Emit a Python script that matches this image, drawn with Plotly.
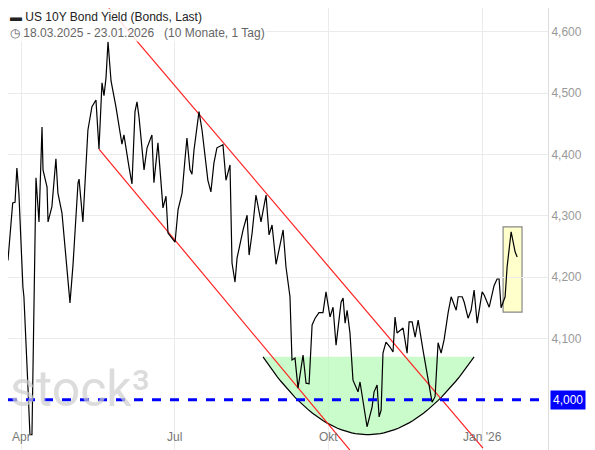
import numpy as np
import pandas as pd
import plotly.graph_objects as go

START = pd.Timestamp("2025-03-18")

# days since 18.03.2025 and yield values
days = [1, 2.5, 4.5, 5.7, 8.5, 9.9, 11, 12.2, 14.6, 15.2, 17.6, 18.8, 20, 22.4, 24.2, 26, 26.6,
        29, 29.6, 31.9, 34.3, 35.5, 37.9, 40.9, 42.7, 44.5, 47.5, 48.1, 50.4, 53.4, 55.8, 58.2,
        60, 61.8, 63, 64.2, 65.4, 67.2, 70.1, 73.7, 74.9, 77.9, 79.7, 81.5, 82.7, 83.9, 86.9,
        88.7, 91.6, 92.8, 95.2, 98.2, 100, 101.2, 105.4, 107.2, 109.6, 111.3, 112.5, 114.3,
        115.5, 116.7, 118.5, 119.7, 121.5, 125, 126.8, 128.6, 130.4, 134, 135.8, 138.2, 139.4,
        141.2, 142.4, 146, 148.4, 149.6, 151.4, 153.7, 156.7, 159.7, 161.5, 163.3, 165.7,
        169.9, 171.6, 172.8, 174, 175.2, 177, 178.8, 181.8, 183.6, 185.4, 187.2, 189, 191.3,
        193.7, 195.5, 197.9, 199.7, 201.5, 204.5, 205.7, 206.9, 208.1, 209.8, 211.6, 214.6,
        215.8, 220, 223, 224.2, 226, 227.2, 228.4, 229.5, 231.3, 233.7, 235.5, 236.7, 237.9,
        241.5, 243.9, 245.1, 246.9, 248.7, 250.5, 253.4, 255.8, 258.8, 260.6, 262.4, 264.2,
        266, 268.4, 270.2, 273.2, 274.4, 276.8, 278, 280.3, 282.1, 283.9, 285.7, 288.7, 289.9,
        292.9, 295.8, 297.6, 298.8, 300, 302.4, 303.6, 306, 308.4, 309.6]
yields = [4.313, 4.293, 4.228, 4.228, 4.321, 4.322, 4.378, 4.337, 4.184, 4.168, 4.021, 3.943,
          3.943, 4.362, 4.290, 4.445, 4.375, 4.347, 4.290, 4.315, 4.393, 4.337, 4.305, 4.217,
          4.158, 4.220, 4.354, 4.360, 4.290, 4.440, 4.478, 4.489, 4.409, 4.517, 4.496, 4.525,
          4.584, 4.520, 4.478, 4.417, 4.432, 4.380, 4.352, 4.470, 4.486, 4.461, 4.375, 4.411,
          4.432, 4.354, 4.419, 4.313, 4.332, 4.272, 4.257, 4.310, 4.337, 4.391, 4.427, 4.375,
          4.368, 4.407, 4.440, 4.470, 4.440, 4.358, 4.339, 4.386, 4.411, 4.416, 4.358, 4.383,
          4.223, 4.192, 4.231, 4.277, 4.301, 4.236, 4.272, 4.334, 4.290, 4.334, 4.269, 4.285,
          4.221, 4.277, 4.217, 4.195, 4.168, 4.065, 4.068, 4.019, 4.073, 4.027, 4.026, 4.122,
          4.133, 4.142, 4.142, 4.176, 4.135, 4.151, 4.089, 4.159, 4.166, 4.125, 4.146, 4.109,
          4.032, 4.013, 4.029, 3.956, 3.988, 4.013, 4.024, 3.972, 3.983, 4.076, 4.094, 4.086,
          4.078, 4.135, 4.109, 4.117, 4.076, 4.127, 4.127, 4.102, 4.130, 4.081, 4.044, 3.996,
          4.005, 4.093, 4.076, 4.098, 4.142, 4.168, 4.146, 4.168, 4.168, 4.159, 4.133, 4.146,
          4.179, 4.125, 4.176, 4.171, 4.151, 4.186, 4.197, 4.197, 4.150, 4.168, 4.217, 4.274,
          4.241, 4.233]

# drawings: (day, value) endpoints
upper_channel = [(61.8, 4.652), (289.2, 3.921)]
lower_channel = [(60, 4.409), (209.8, 3.918)]
bowl = dict(left=157.9, right=283.9, bottom_day=220, rim=4.070, low=3.943)
box = dict(d0=301.2, d1=312.5, v0=4.143, v1=4.282)
support = 4.000

tick_days = ["2025-04-01", "2025-07-01", "2025-10-01", "2026-01-01"]
tick_text = ["Apr", "Jul", "Okt", "Jan '26"]
y_ticks = [4.1, 4.2, 4.3, 4.4, 4.5, 4.6]


def to_date(d):
    return START + pd.to_timedelta(d, unit="D")


fig = go.Figure()

# green rounding bottom
t = np.linspace(0, 1, 60)
bx = (1 - t) ** 2 * bowl["left"] + 2 * t * (1 - t) * bowl["bottom_day"] + t ** 2 * bowl["right"]
ctrl = 2 * bowl["low"] - bowl["rim"]
by = (1 - t) ** 2 * bowl["rim"] + 2 * t * (1 - t) * ctrl + t ** 2 * bowl["rim"]
fig.add_trace(go.Scatter(x=[to_date(d) for d in bx], y=by, mode="lines", fill="toself",
                         fillcolor="rgba(180,250,180,0.7)", line=dict(color="black", width=1.2),
                         hoverinfo="skip", showlegend=False))

fig.add_hline(y=support, line=dict(color="#0000ff", width=3, dash="dash"))

for (d0, v0), (d1, v1) in (upper_channel, lower_channel):
    fig.add_trace(go.Scatter(x=[to_date(d0), to_date(d1)], y=[v0, v1], mode="lines",
                             line=dict(color="#ff2020", width=1.2), hoverinfo="skip",
                             showlegend=False))

fig.add_shape(type="rect", x0=to_date(box["d0"]), x1=to_date(box["d1"]), y0=box["v0"], y1=box["v1"],
              fillcolor="#ffffcc", line=dict(color="#888888", width=1.2), layer="below")

fig.add_trace(go.Scatter(x=[to_date(d) for d in days], y=yields, mode="lines",
                         line=dict(color="black", width=1.2), showlegend=False))

for d, txt in zip(tick_days, tick_text):
    fig.add_annotation(x=d, y=0, xref="x", yref="paper", yanchor="bottom", yshift=12,
                       text=txt, showarrow=False, font=dict(color="#777", size=12))

fig.add_annotation(x=0.0, y=0.085, xref="paper", yref="paper", text="stock³", showarrow=False,
                   xanchor="left", yanchor="bottom", font=dict(size=50, color="rgba(205,205,205,0.7)",
                                                               family="Roboto"))
fig.add_annotation(x=0.0, y=1.0, xref="paper", yref="paper", xanchor="left", yanchor="top",
                   showarrow=False, align="left", bgcolor="rgba(255,255,255,0.85)",
                   text="<b>▬</b> US 10Y Bond Yield (Bonds, Last)<br>"
                        "<span style='color:#666'>◷ 18.03.2025 - 23.01.2026   (10 Monate, 1 Tag)</span>",
                   font=dict(size=12, color="#222", family="Liberation Sans"))
fig.add_annotation(x=1.0, y=support, xref="paper", yref="y", xanchor="left", showarrow=False,
                   text="4,000", bgcolor="#0000ff", font=dict(color="white", size=12),
                   borderpad=2, xshift=2)

fig.update_layout(
    width=595, height=450, margin=dict(l=0, r=55, t=0, b=0),
    plot_bgcolor="white", paper_bgcolor="white", separators=",.",
    font=dict(family="Liberation Sans", size=12, color="#999"),
    xaxis=dict(range=[to_date(5.7), to_date(328)], tickvals=tick_days, showticklabels=False,
               ticks="inside", ticklen=4, tickcolor="#888",
               showgrid=True, gridcolor="#ebebeb", zeroline=False),
    yaxis=dict(range=[3.905, 4.639], side="right", tickvals=y_ticks, tickformat=".3f",
               showgrid=True, gridcolor="#ebebeb", zeroline=False, showline=True,
               linecolor="#dddddd", ticks="", tickfont=dict(color="#999", size=12)),
)

fig.write_html("out.html")
